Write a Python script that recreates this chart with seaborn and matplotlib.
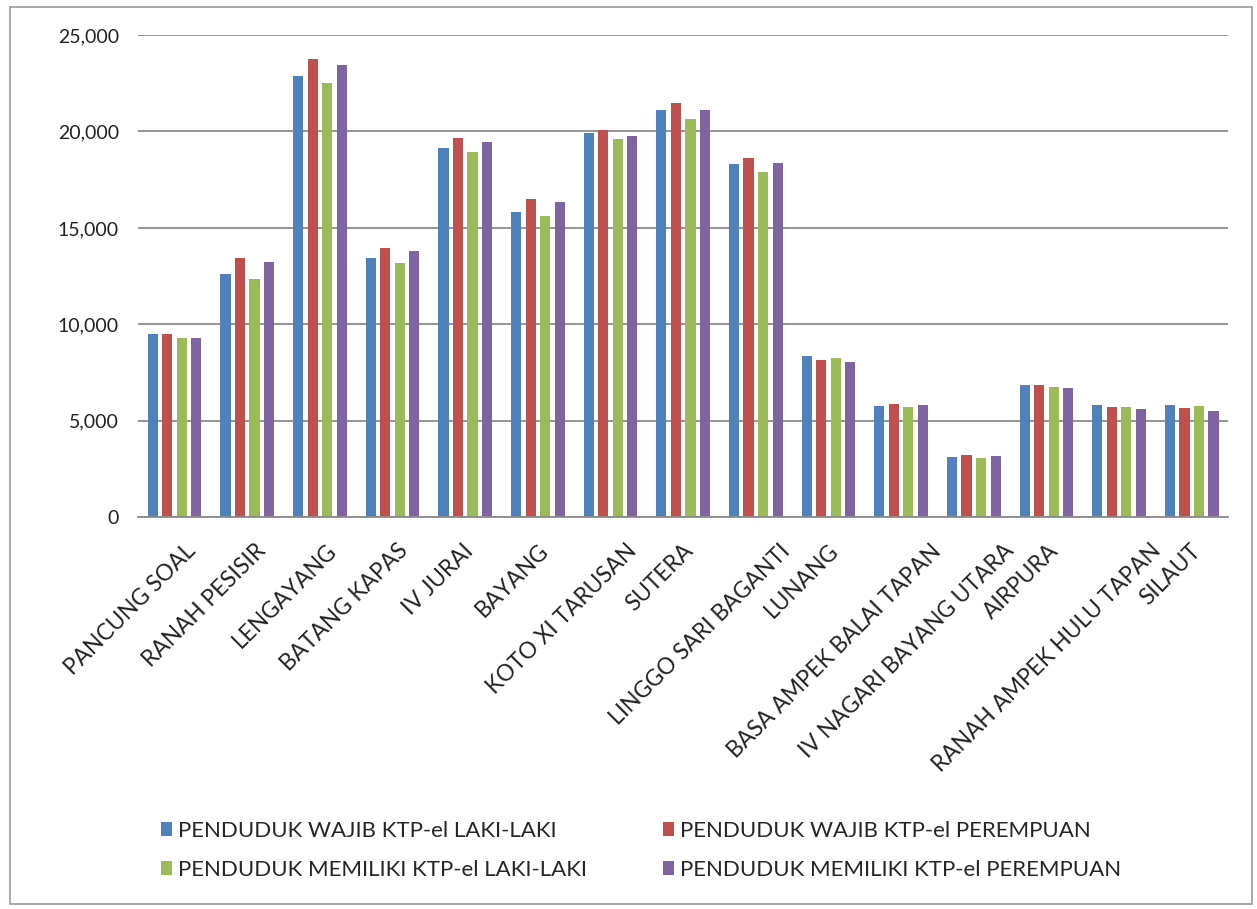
import matplotlib
matplotlib.use("Agg")
import matplotlib.pyplot as plt
import matplotlib.transforms as mtrans
import seaborn as sns
import pandas as pd
from matplotlib.ticker import FuncFormatter
from matplotlib.patches import Rectangle, Patch

categories = ["PANCUNG SOAL", "RANAH PESISIR", "LENGAYANG", "BATANG KAPAS", "IV JURAI",
              "BAYANG", "KOTO XI TARUSAN", "SUTERA", "LINGGO SARI BAGANTI", "LUNANG",
              "BASA AMPEK BALAI TAPAN", "IV NAGARI BAYANG UTARA", "AIRPURA",
              "RANAH AMPEK HULU TAPAN", "SILAUT"]
series_names = ["PENDUDUK WAJIB KTP-el LAKI-LAKI", "PENDUDUK WAJIB KTP-el PEREMPUAN",
                "PENDUDUK MEMILIKI KTP-el LAKI-LAKI", "PENDUDUK MEMILIKI KTP-el PEREMPUAN"]
wajib_laki = [9490, 12600, 22870, 13430, 19140, 15820, 19920, 21110, 18310, 8350, 5760, 3110, 6850, 5810, 5810]
wajib_perempuan = [9490, 13430, 23760, 13950, 19660, 16500, 20070, 21470, 18620, 8140, 5860, 3220, 6830, 5710, 5650]
memiliki_laki = [9290, 12350, 22510, 13180, 18930, 15610, 19610, 20640, 17900, 8250, 5710, 3060, 6740, 5710, 5760]
memiliki_perempuan = [9300, 13230, 23450, 13800, 19450, 16340, 19760, 21110, 18360, 8040, 5810, 3160, 6700, 5600, 5500]
colors = ["#4F81BD", "#C0504D", "#9BBB59", "#8064A2"]

# horizontal pixel nudges of the rotated category labels (layout only)
label_dx_px = [10, 8, 6, 5, -3, 0, 15, -1, 24, -1, 29, 29, 1, 31, -2]

rows = []
for name, vals in zip(series_names, [wajib_laki, wajib_perempuan, memiliki_laki, memiliki_perempuan]):
    for c, v in zip(categories, vals):
        rows.append({"Kecamatan": c, "Seri": name, "Jumlah": v})
df = pd.DataFrame(rows)

sns.set_theme(style="white")
plt.rcParams['font.family'] = ['Lato', 'DejaVu Sans']

fig = plt.figure(figsize=(12.57, 9.09), dpi=100)
ax = fig.add_axes([0.110, 0.431, 0.867, 0.5305])

sns.barplot(data=df, x="Kecamatan", y="Jumlah", hue="Seri", order=categories,
            hue_order=series_names, palette=colors, width=0.8, ax=ax,
            legend=False, saturation=1, errorbar=None)

for p in ax.patches:
    w = p.get_width()
    nw = w * 0.7
    p.set_x(p.get_x() + (w - nw) / 2)
    p.set_width(nw)
    p.set_edgecolor("none")

ax.set_ylim(0, 25000)
ax.set_xlim(-0.5, len(categories) - 0.5)
ax.set_yticks([0, 5000, 10000, 15000, 20000, 25000])
ax.yaxis.set_major_formatter(FuncFormatter(lambda v, _: f"{int(v):,}"))
ax.yaxis.grid(True, color="#8c8c8c", linewidth=1.3)
ax.set_axisbelow(True)
for s in ["top", "right", "left"]:
    ax.spines[s].set_visible(False)
ax.spines["bottom"].set_color("#8c8c8c")
ax.spines["bottom"].set_linewidth(1.3)
ax.set_xlabel("")
ax.set_ylabel("")
ax.tick_params(axis="y", labelsize=14, colors="#222222", pad=14, length=0)
ax.tick_params(axis="x", length=0)
ax.set_xticklabels([])

base = ax.get_xaxis_transform()
for i, (cat, dx) in enumerate(zip(categories, label_dx_px)):
    tr = base + mtrans.ScaledTranslation(dx / 100, -23 / 100, fig.dpi_scale_trans)
    ax.text(i, 0, cat, transform=tr, rotation=45, ha="right", va="top",
            rotation_mode="anchor", fontsize=16.3, color="#222222")

leg_order = [0, 2, 1, 3]
handles = [Patch(facecolor=colors[k], edgecolor="none") for k in leg_order]
labels = [series_names[k] for k in leg_order]
fig.legend(handles, labels, ncol=2, loc="upper left",
           bbox_to_anchor=(0.128, 1 - 821 / 909), frameon=False, fontsize=16,
           handlelength=0.5, handleheight=0.6, handletextpad=0.25, columnspacing=3.45,
           labelspacing=0.86, borderpad=0, borderaxespad=0)

fig.patches.append(Rectangle((0.008, 0.006), 0.988, 0.986, transform=fig.transFigure,
                             fill=False, edgecolor="#9a9a9a", linewidth=1.2))

fig.savefig("out.png", dpi=100)
